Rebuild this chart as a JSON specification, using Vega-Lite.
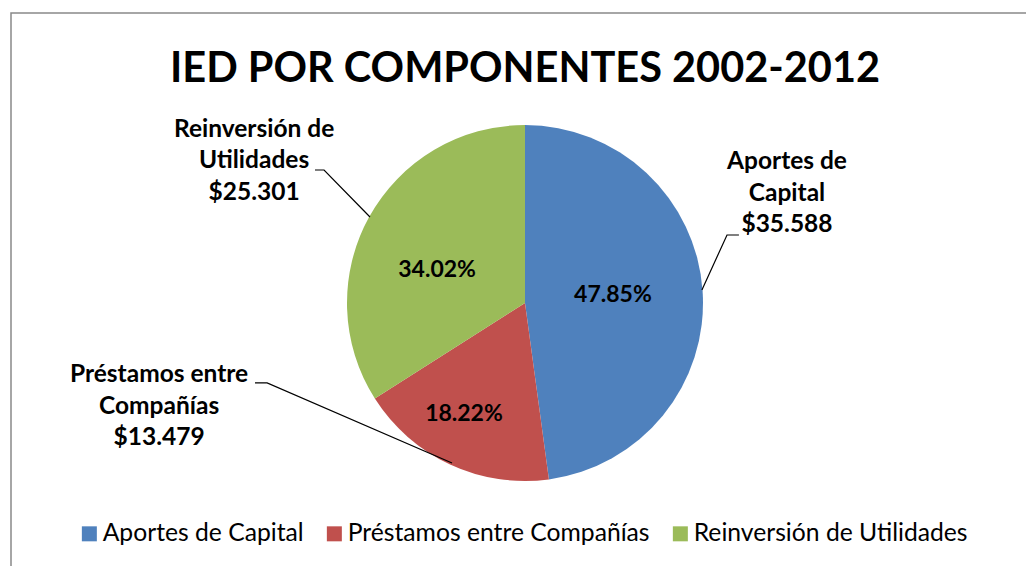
{
  "$schema": "https://vega.github.io/schema/vega-lite/v6.json",
  "width": 1028,
  "height": 580,
  "autosize": {"type": "none"},
  "padding": {"left": 11, "top": 13, "right": 0, "bottom": 0},
  "background": "white",
  "config": {"view": {"stroke": "#898989", "strokeWidth": 1.5}, "font": "Lato"},
  "title": {
    "text": "IED POR COMPONENTES 2002-2012",
    "font": "Lato",
    "fontSize": 41.5,
    "fontWeight": "bold",
    "color": "black",
    "anchor": "middle",
    "frame": "group",
    "baseline": "alphabetic",
    "offset": -110
  },
  "datasets": {
    "componentes": [
      {"componente": "Aportes de Capital", "orden": 1, "valor": 35588, "pct": "47.85%", "etiqueta": "Aportes de\nCapital\n$35.588", "lx": 1.472, "ly": 0.792, "px": 0.494, "py": 0.045},
      {"componente": "Préstamos entre Compañías", "orden": 2, "valor": 13479, "pct": "18.22%", "etiqueta": "Préstamos entre\nCompañías\n$13.479", "lx": -2.056, "ly": -0.407, "px": -0.343, "py": -0.624},
      {"componente": "Reinversión de Utilidades", "orden": 3, "valor": 25301, "pct": "34.02%", "etiqueta": "Reinversión de\nUtilidades\n$25.301", "lx": -1.522, "ly": 0.972, "px": -0.494, "py": 0.185}
    ],
    "guias": [
      {"componente": "Aportes de Capital", "orden": 1, "x": 1.202, "y": 0.382},
      {"componente": "Aportes de Capital", "orden": 2, "x": 1.135, "y": 0.382},
      {"componente": "Aportes de Capital", "orden": 3, "x": 0.994, "y": 0.073},
      {"componente": "Préstamos entre Compañías", "orden": 1, "x": -1.517, "y": -0.449},
      {"componente": "Préstamos entre Compañías", "orden": 2, "x": -1.449, "y": -0.449},
      {"componente": "Préstamos entre Compañías", "orden": 3, "x": -0.41, "y": -0.899},
      {"componente": "Reinversión de Utilidades", "orden": 1, "x": -1.18, "y": 0.747},
      {"componente": "Reinversión de Utilidades", "orden": 2, "x": -1.129, "y": 0.747},
      {"componente": "Reinversión de Utilidades", "orden": 3, "x": -0.871, "y": 0.483}
    ]
  },
  "layer": [
    {
      "data": {"name": "componentes"},
      "mark": {"type": "arc", "outerRadius": 178},
      "encoding": {
        "theta": {"field": "valor", "type": "quantitative", "stack": true},
        "order": {"field": "orden", "type": "quantitative"},
        "color": {
          "field": "componente",
          "type": "nominal",
          "scale": {
            "domain": ["Aportes de Capital", "Préstamos entre Compañías", "Reinversión de Utilidades"],
            "range": ["#4F81BD", "#C0504D", "#9BBB59"]
          },
          "legend": {
            "title": null,
            "orient": "none",
            "direction": "horizontal",
            "legendX": 66,
            "legendY": 508,
            "padding": 0,
            "symbolType": "square",
            "symbolSize": 225,
            "symbolStrokeWidth": 0,
            "labelFont": "Lato",
            "labelFontSize": 24.7,
            "labelColor": "black",
            "labelLimit": 0,
            "labelOffset": 1,
            "columnPadding": 18
          }
        }
      }
    },
    {
      "data": {"name": "guias"},
      "mark": {"type": "line", "color": "black", "strokeWidth": 1.2},
      "encoding": {
        "x": {"field": "x", "type": "quantitative", "scale": {"domain": [-2.888, 2.888], "nice": false, "zero": false}, "axis": null},
        "y": {"field": "y", "type": "quantitative", "scale": {"domain": [-1.629, 1.629], "nice": false, "zero": false}, "axis": null},
        "detail": {"field": "componente"},
        "order": {"field": "orden", "type": "quantitative"}
      }
    },
    {
      "data": {"name": "componentes"},
      "mark": {"type": "text", "font": "Lato", "fontSize": 24.5, "fontWeight": "bold", "color": "black", "lineBreak": "\n", "lineHeight": 31.5, "align": "center", "baseline": "middle"},
      "encoding": {
        "x": {"field": "lx", "type": "quantitative", "scale": {"domain": [-2.888, 2.888], "nice": false, "zero": false}, "axis": null},
        "y": {"field": "ly", "type": "quantitative", "scale": {"domain": [-1.629, 1.629], "nice": false, "zero": false}, "axis": null},
        "text": {"field": "etiqueta"}
      }
    },
    {
      "data": {"name": "componentes"},
      "mark": {"type": "text", "font": "Lato", "fontSize": 23, "fontWeight": "bold", "color": "black", "align": "center", "baseline": "middle"},
      "encoding": {
        "x": {"field": "px", "type": "quantitative", "scale": {"domain": [-2.888, 2.888], "nice": false, "zero": false}, "axis": null},
        "y": {"field": "py", "type": "quantitative", "scale": {"domain": [-1.629, 1.629], "nice": false, "zero": false}, "axis": null},
        "text": {"field": "pct"}
      }
    }
  ]
}
